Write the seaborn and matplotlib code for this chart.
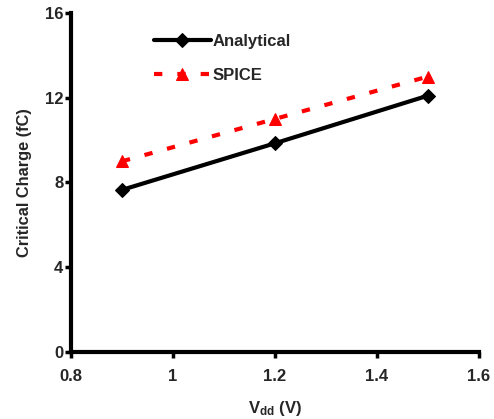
import matplotlib
matplotlib.use("Agg")
import matplotlib.pyplot as plt
import seaborn as sns
import pandas as pd

vdd = [0.9, 1.2, 1.5]
analytical = [7.65, 9.85, 12.1]
spice = [9.0, 11.0, 13.0]
x_ticks = [0.8, 1.0, 1.2, 1.4, 1.6]
x_tick_labels = ["0.8", "1", "1.2", "1.4", "1.6"]
y_ticks = [0, 4, 8, 12, 16]

sns.set_theme(style="white")
plt.rcParams['font.family'] = ['Liberation Sans', 'DejaVu Sans']
plt.rcParams['font.weight'] = 'bold'
plt.rcParams['mathtext.fontset'] = 'custom'
plt.rcParams['mathtext.bf'] = 'Liberation Sans:bold'
plt.rcParams['mathtext.rm'] = 'Liberation Sans:bold'
plt.rcParams['mathtext.default'] = 'bf'

df = pd.DataFrame({
    "Vdd": vdd * 2,
    "Qc": analytical + spice,
    "Series": ["Analytical"] * len(vdd) + ["SPICE"] * len(vdd),
})

fig = plt.figure(figsize=(4.94, 4.19), dpi=100)
ax = fig.add_axes([0.1437, 0.160, 0.8259, 0.809])

sns.lineplot(data=df[df.Series == "Analytical"], x="Vdd", y="Qc", ax=ax,
             color="black", lw=3, marker="D", markersize=7,
             markeredgecolor="black", label="Analytical")
sns.lineplot(data=df[df.Series == "SPICE"], x="Vdd", y="Qc", ax=ax,
             color="#ff0000", lw=3, marker="^", markersize=9,
             markeredgecolor="#ff0000", linestyle=(0, (2.0, 3.6)), label="SPICE")

ax.set_xlim(0.8, 1.6)
ax.set_ylim(0, 16)
ax.set_xticks(x_ticks)
ax.set_xticklabels(x_tick_labels)
ax.set_yticks(y_ticks)
for s in ["top", "right"]:
    ax.spines[s].set_visible(False)
for s in ["left", "bottom"]:
    ax.spines[s].set_linewidth(3)
    ax.spines[s].set_color("black")
ax.tick_params(axis="both", direction="out", length=4, width=2.5, color="black",
               labelsize=12, bottom=True, left=True)
ax.tick_params(axis="x", pad=8)
ax.tick_params(axis="y", pad=1.5)
for lab in ax.get_xticklabels() + ax.get_yticklabels():
    lab.set_fontweight("bold")

ax.set_xlabel(r"V$_{dd}$ (V)", fontsize=12, fontweight="bold", labelpad=11)
ax.set_ylabel("Critical Charge (fC)", fontsize=11.8, fontweight="bold", labelpad=9)

leg = ax.legend(loc="upper left", bbox_to_anchor=(0.167, 0.983), frameon=False,
                handlelength=3.4, handletextpad=0.1, labelspacing=1.14,
                prop={"weight": "bold", "size": 12})

fig.savefig("out.png", dpi=100)
